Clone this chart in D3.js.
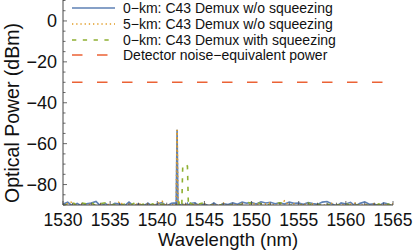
<!DOCTYPE html>
<html>
<head>
<meta charset="utf-8">
<script src="https://cdn.jsdelivr.net/npm/d3@7"></script>
<style>
  body { margin: 0; background: #fff; }
  text { font-family: "Liberation Sans", Arial, sans-serif; fill: #111; }
</style>
</head>
<body>
<script>
// wavelength grid (nm), denser around the C43 channel
var wavelengths = [
  1530, 1530.5, 1531, 1531.5, 1532, 1532.5, 1533, 1533.5, 1534, 1534.5,
  1535, 1535.5, 1536, 1536.5, 1537, 1537.5, 1538, 1538.5, 1539, 1539.5,
  1540, 1540.5, 1541, 1541.5,
  1541.9, 1542.0, 1542.1, 1542.2, 1542.3, 1542.6, 1542.7, 1543.0, 1543.2, 1543.3,
  1543.5, 1544, 1544.5, 1545, 1545.5, 1546, 1546.5, 1547, 1547.5,
  1548, 1548.5, 1549, 1549.5, 1550, 1550.5, 1551, 1551.5, 1552, 1552.5,
  1553, 1553.5, 1554, 1554.5, 1555, 1555.5, 1556, 1556.5, 1557, 1557.5,
  1558, 1558.5, 1559, 1559.5, 1560, 1560.5, 1561, 1561.5, 1562, 1562.5,
  1563, 1563.5, 1564, 1564.5, 1565
];

// 0-km: C43 Demux w/o squeezing (dBm)
var power0km = [
  -89.6, -88.6, -90.5, -89.2, -90.5, -89.4, -89.0, -88.3, -90.5, -89.3,
  -90.5, -89.2, -89.5, -90.5, -88.6, -90.5, -89.4, -90.5, -89.1, -90.5,
  -89.5, -88.8, -90.5, -89.2,
  -89.0, -90.5, -53.2, -90.5, -89.4, -90.5, -89.6, -90.5, -89.2, -90.5,
  -89.3, -88.9, -90.5, -89.4, -90.5, -89.0, -90.5, -89.3, -89.8,
  -88.9, -89.6, -88.6, -89.1, -88.8, -89.5, -88.4, -89.0, -88.7, -89.4,
  -88.9, -89.5, -88.6, -89.2, -89.0, -89.6, -88.8, -89.3, -89.7, -88.6,
  -88.3, -89.4, -90.5, -89.0, -89.5, -88.7, -90.5, -89.2, -88.5, -89.6,
  -89.4, -90.5, -88.9, -89.5, -90.5
];

// 5-km: C43 Demux w/o squeezing (dBm)
var power5km = [
  -90.5, -89.2, -88.4, -90.5, -89.6, -90.5, -89.3, -90.5, -89.5, -90.5,
  -89.4, -90.5, -88.3, -90.5, -89.6, -90.5, -89.0, -90.5, -89.5, -90.5,
  -89.3, -88.2, -90.5, -89.6,
  -90.5, -89.4, -53.2, -89.5, -88.9, -90.5, -89.2, -90.5, -89.5, -90.5,
  -90.5, -89.3, -90.5, -89.5, -90.5, -89.6, -90.5, -89.1, -90.5,
  -89.5, -90.5, -89.2, -90.5, -89.6, -89.2, -90.5, -89.5, -89.0, -90.5,
  -89.6, -88.0, -90.5, -89.4, -90.5, -89.2, -90.5, -89.5, -90.5, -89.6,
  -90.5, -89.2, -90.5, -89.4, -90.5, -89.6, -89.1, -90.5, -89.5, -90.5,
  -89.3, -90.5, -89.6, -90.5, -89.4
];

// 0-km: C43 Demux with squeezing (dBm)
var powerSqz = [
  -90.5, -89.4, -88.8, -90.5, -89.0, -89.5, -88.7, -90.5, -89.3, -88.9,
  -90.5, -89.5, -90.5, -89.6, -90.5, -89.2, -90.5, -89.6, -90.5, -89.4,
  -90.5, -89.5, -89.8, -90.5,
  -90.5, -89.6, -89.2, -90.5, -88.6, -90.5, -70.6, -70.2, -71.0, -90.5,
  -89.1, -90.5, -89.4, -88.9, -90.5, -89.5, -90.5, -89.3, -90.5,
  -89.6, -90.5, -89.4, -88.7, -89.2, -88.4, -89.5, -88.8, -90.5, -89.5,
  -88.9, -89.6, -90.5, -89.3, -90.5, -89.5, -89.0, -90.5, -89.6, -90.5,
  -89.4, -90.5, -89.6, -90.5, -89.1, -90.5, -89.5, -90.5, -89.6, -90.5,
  -90.5, -89.5, -90.5, -89.6, -90.5
];

var detectorNEP = -30; // dBm

var xTicks = [1530, 1535, 1540, 1545, 1550, 1555, 1560, 1565];
var yTicks = [-80, -60, -40, -20, 0];

var legendLabels = [
  "0\u2212km: C43 Demux w/o squeezing",
  "5\u2212km: C43 Demux w/o squeezing",
  "0\u2212km: C43 Demux with squeezing",
  "Detector noise\u2212equivalent power"
];

function draw_chart(){
  var width = 415,
      height = 251,
      left = 63,
      right = 393,
      top = 0.5,
      bottom = 205;

  var colors = ["#5E81B5", "#E19C24", "#8FB032", "#EB6235"],
      dashes = [null, "1.3,2.9", "4.3,6.5", "10.5,14.5"];

  var x = d3.scaleLinear().domain([1530, 1565]).range([left, right]);
  var y = d3.scaleLinear().domain([-90, 10]).range([bottom, top]);

  var svg = d3.select("body").append("svg")
      .attr("width", width)
      .attr("height", height);

  svg.append("clipPath").attr("id", "plotclip")
    .append("rect")
      .attr("x", left).attr("y", 0)
      .attr("width", right - left).attr("height", bottom);

  var plot = svg.append("g").attr("clip-path", "url(#plotclip)");

  var series = [power0km, power5km, powerSqz];
  var line = d3.line()
      .x(function(d, i) { return x(wavelengths[i]); })
      .y(function(d) { return y(d); });

  series.forEach(function(s, k) {
    plot.append("path")
        .datum(s)
        .attr("d", line)
        .attr("fill", "none")
        .attr("stroke", colors[k])
        .attr("stroke-width", 1.6)
        .attr("stroke-dasharray", dashes[k]);
  });

  // detector noise-equivalent power
  plot.append("line")
      .attr("x1", x(1530)).attr("x2", x(1565))
      .attr("y1", y(detectorNEP)).attr("y2", y(detectorNEP))
      .attr("stroke", colors[3])
      .attr("stroke-width", 1.6)
      .attr("stroke-dasharray", dashes[3])
      .attr("stroke-dashoffset", 16);

  // axes with inward ticks
  var axisColor = "#444";
  var xMinor = d3.range(1530, 1566, 1);
  var yMinor = d3.range(-90, 11, 5);

  var ax = svg.append("g");
  ax.selectAll(".xminor").data(xMinor).enter().append("line")
      .attr("x1", function(d) { return x(d); }).attr("x2", function(d) { return x(d); })
      .attr("y1", bottom).attr("y2", function(d) { return xTicks.indexOf(d) >= 0 ? bottom - 4 : bottom - 2.3; })
      .attr("stroke", axisColor).attr("stroke-width", 0.8);
  ax.selectAll(".yminor").data(yMinor).enter().append("line")
      .attr("y1", function(d) { return y(d); }).attr("y2", function(d) { return y(d); })
      .attr("x1", left).attr("x2", function(d) { return d % 20 == 0 ? left + 4 : left + 2.5; })
      .attr("stroke", axisColor).attr("stroke-width", 0.8);

  ax.append("line")
      .attr("x1", left).attr("x2", right)
      .attr("y1", bottom).attr("y2", bottom)
      .attr("stroke", axisColor).attr("stroke-width", 1);
  ax.append("line")
      .attr("x1", left).attr("x2", left)
      .attr("y1", 0).attr("y2", bottom)
      .attr("stroke", axisColor).attr("stroke-width", 1);

  ax.selectAll(".xlab").data(xTicks).enter().append("text")
      .attr("x", function(d) { return x(d); })
      .attr("y", 225.5)
      .attr("text-anchor", "middle")
      .style("font-size", "17.5px")
      .text(function(d) { return d; });

  ax.selectAll(".ylab").data(yTicks).enter().append("text")
      .attr("x", 57)
      .attr("y", function(d) { return y(d) + 6.5; })
      .attr("text-anchor", "end")
      .style("font-size", "18px")
      .text(function(d) { return d < 0 ? "\u2212" + (-d) : d; });

  svg.append("text")
      .attr("x", (left + right) / 2)
      .attr("y", 246)
      .attr("text-anchor", "middle")
      .style("font-size", "18.5px")
      .text("Wavelength (nm)");

  svg.append("text")
      .attr("transform", "translate(19,113) rotate(-90)")
      .attr("text-anchor", "middle")
      .style("font-size", "19.5px")
      .text("Optical Power (dBm)");

  // legend
  var legend = svg.append("g");
  var rowY = [8, 24, 40, 55];
  legendLabels.forEach(function(lab, k) {
    legend.append("line")
        .attr("x1", 72).attr("x2", 115)
        .attr("y1", rowY[k]).attr("y2", rowY[k])
        .attr("stroke", colors[k])
        .attr("stroke-width", 1.6)
        .attr("stroke-dasharray", dashes[k]);
    legend.append("text")
        .attr("x", 123)
        .attr("y", rowY[k] + 5)
        .style("font-size", "14px")
        .text(lab);
  });
}

draw_chart();
</script>
</body>
</html>
